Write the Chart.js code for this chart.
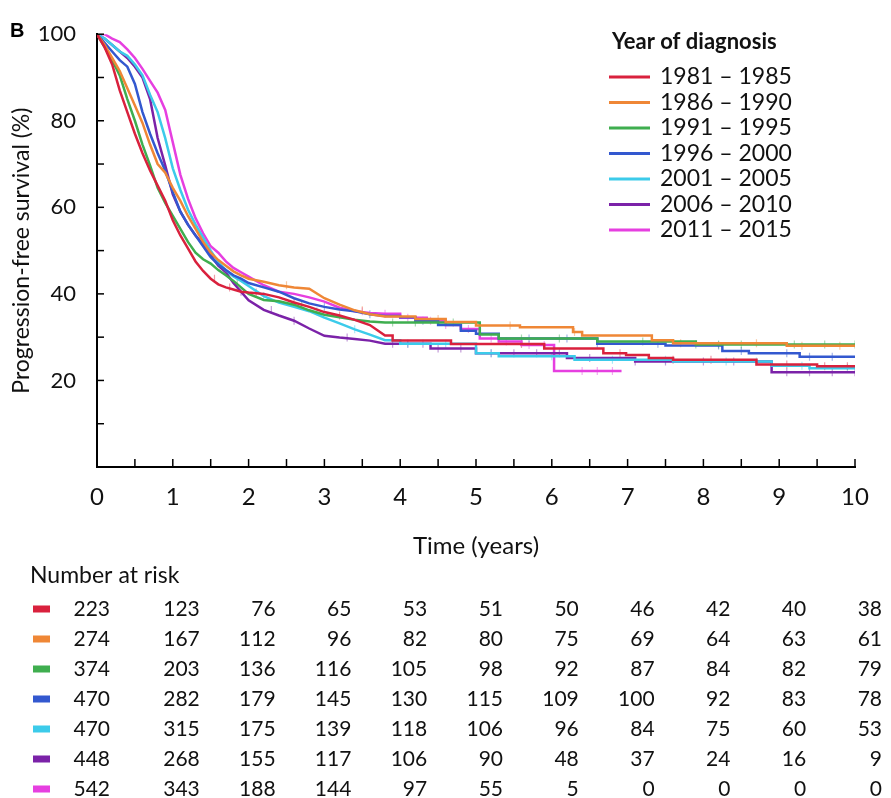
<!DOCTYPE html>
<html>
<head>
<meta charset="utf-8">
<script src="https://cdn.jsdelivr.net/npm/chart.js@4.4.1/dist/chart.umd.min.js"></script>
<style>
  html, body { margin: 0; padding: 0; background: #fff; }
  #wadah { width: 891px; height: 798px; }
</style>
</head>
<body>
<div id="wadah"><canvas id="grafikSurvival" width="891" height="798"></canvas></div>
<script>
// 1. DATA KURVA
const kelompokTahun = ['1981 – 1985', '1986 – 1990', '1991 – 1995', '1996 – 2000', '2001 – 2005', '2006 – 2010', '2011 – 2015'];

// grid waktu bagian awal (tahun)
const waktuAwal = [0, 0.1, 0.2, 0.3, 0.4, 0.5, 0.6, 0.7, 0.8, 0.9, 1.0, 1.1, 1.2, 1.3, 1.4, 1.5, 1.6, 1.7, 1.8, 1.9, 2.0,
                   2.2, 2.4, 2.6, 2.8, 3.0, 3.2, 3.4, 3.6, 3.8];

const awal1981 = [100, 97, 93, 87, 82, 77, 72.5, 68.5, 65, 61.5, 57, 53.5, 50.5, 47.5, 45.3, 43.5, 42.2, 41.5, 41, 40.5, 40.3, 40, 39.2, 38, 37, 35.8, 35, 34, 32.8, 30.4];
const awal1986 = [100, 97.5, 94.5, 91.5, 87.5, 83.5, 79.5, 74.5, 70, 68, 64.5, 61.5, 58, 55, 52, 49.5, 47.8, 46.5, 45.2, 44.3, 43.5, 42.8, 42, 41.5, 41.2, 39, 37.5, 36.2, 35.3, 34.8];
const awal1991 = [100, 97, 94, 90.5, 85, 80, 74.5, 69.7, 64.5, 61, 58, 55, 52, 49.5, 48, 47, 45.5, 44.3, 43, 41.5, 40, 38.6, 38.3, 37.5, 36.2, 35.2, 34.6, 34, 33.6, 33.4];
const awal1996 = [100, 98, 96, 94, 92.5, 88.5, 82, 77, 72.5, 68.5, 63.5, 59, 56, 53.5, 51, 48.5, 46.8, 45.5, 44.3, 43.5, 42.5, 41.5, 40.5, 39, 37.8, 37, 36.4, 36, 35.3, 34.9];
const awal2001 = [100, 99, 97.5, 96, 95, 93, 90.5, 86, 82, 76, 69, 64, 59.5, 56, 53, 50, 47.3, 45.5, 44, 43, 41.8, 39.5, 38, 37, 36, 34.5, 33.2, 31.8, 30.6, 29.3];
const awal2006 = [100, 99, 97.5, 96, 94.5, 92.5, 90, 85, 76, 69.7, 63, 59, 56, 53.5, 51.5, 49, 46.5, 45, 42.5, 40.5, 38.5, 36.3, 35, 33.8, 32, 30.3, 29.9, 29.6, 29.2, 28.5];
const awal2011 = [100, 100, 99, 98.2, 96.5, 94.5, 92, 89.2, 86.5, 82.5, 75, 67.5, 62, 57.5, 54, 51, 49.5, 47.5, 46, 45, 44, 42, 40.5, 40, 39.2, 38.2, 36.8, 36, 35.6, 35.4];

// bagian akhir: waktu langkah turun dan nilai baru sesudah langkah
const langkahWaktu1981 = [3.9, 4.67, 5.9, 6.68, 6.98, 7.28, 7.6, 8.7, 9.5];
const langkahNilai1981 = [29.2, 28.4, 27.4, 26.3, 25.9, 25.2, 24.8, 23.7, 23.3];
const langkahWaktu1986 = [4.2, 4.6, 5.0, 5.58, 6.28, 6.4, 7.32, 7.6, 9.1];
const langkahNilai1986 = [34.2, 33.5, 32.7, 32.3, 31.2, 30.4, 29.3, 28.6, 28.0];
const langkahWaktu1991 = [5.05, 5.3, 6.6, 7.9];
const langkahNilai1991 = [30.6, 29.7, 29.0, 28.3];
const langkahWaktu1996 = [4.0, 4.2, 4.5, 4.8, 5.0, 5.3, 6.6, 7.5, 8.25, 8.6, 9.27];
const langkahNilai1996 = [34.6, 33.8, 32.8, 31.5, 30.8, 29.7, 28.5, 28.1, 26.8, 26.3, 25.5];
const langkahWaktu2001 = [4.0, 5.0, 5.3, 6.3, 7.6, 8.9, 9.4];
const langkahNilai2001 = [28.5, 26.3, 25.6, 24.8, 24.4, 23.4, 22.8];
const langkahWaktu2006 = [4.4, 5.0, 6.2, 7.1, 8.9];
const langkahNilai2006 = [27.4, 26.3, 25.2, 24.4, 21.9];
const langkahWaktu2011 = [4.0, 4.35, 4.6, 4.8, 5.05, 5.3, 5.6, 6.03];
const langkahNilai2011 = [34.5, 33.8, 32.8, 31.9, 29.7, 29.0, 28.2, 22.2];

const waktuAkhir = [10, 10, 10, 10, 10, 10, 6.92];

// waktu sensor (tanda garis kecil)
const sensor1981 = [1.55, 1.75, 2.1, 2.6, 3.2, 5.6, 6.9, 7.6, 8.1, 9.1, 9.6, 9.9];
const sensor1986 = [2.5, 3.5, 4.5, 5.45, 6.3, 7.7, 8.7, 9.3, 9.8];
const sensor1991 = [1.85, 2.7, 3.9, 4.2, 4.7, 5.6, 6.1, 7.2, 7.9, 8.2, 8.5, 9.2, 9.6, 10];
const sensor1996 = [3.0, 3.6, 4.3, 5.3, 5.7, 6.2, 6.6, 7.4, 8.2, 8.5, 9.1, 9.4, 9.7];
const sensor2001 = [2.2, 2.9, 3.4, 4.1, 4.6, 5.2, 6.0, 6.8, 7.5, 8.3, 8.7, 9.3, 9.9];
const sensor2006 = [1.9, 2.3, 2.6, 3.3, 3.9, 4.1, 4.3, 4.5, 4.8, 5.2, 5.5, 5.8, 6.1, 6.5, 7.1, 7.5, 8.0, 8.4, 9.1, 9.4, 9.7, 10];
const sensor2011 = [3.5, 3.8, 4.1, 4.4, 4.6, 4.9, 5.2, 5.4, 5.7, 5.9, 6.4, 6.6, 6.8];

// tabel jumlah berisiko
const waktuRisiko = [0, 1, 2, 3, 4, 5, 6, 7, 8, 9, 10];
const risiko1981 = [223, 123, 76, 65, 53, 51, 50, 46, 42, 40, 38];
const risiko1986 = [274, 167, 112, 96, 82, 80, 75, 69, 64, 63, 61];
const risiko1991 = [374, 203, 136, 116, 105, 98, 92, 87, 84, 82, 79];
const risiko1996 = [470, 282, 179, 145, 130, 115, 109, 100, 92, 83, 78];
const risiko2001 = [470, 315, 175, 139, 118, 106, 96, 84, 75, 60, 53];
const risiko2006 = [448, 268, 155, 117, 106, 90, 48, 37, 24, 16, 9];
const risiko2011 = [542, 343, 188, 144, 97, 55, 5, 0, 0, 0, 0];

const warnaKelompok = ['#d9213d', '#ef8736', '#3fae4f', '#3358cf', '#3ccbea', '#7b22a8', '#e63fe0'];
const warnaSensor = ['rgba(217,33,61,0.45)', 'rgba(239,135,54,0.45)', 'rgba(63,174,79,0.45)', 'rgba(51,88,207,0.45)',
                     'rgba(60,203,234,0.45)', 'rgba(123,34,168,0.45)', 'rgba(230,63,224,0.45)'];
const hurufUtama = 'Lato, "Open Sans", sans-serif';

// 2. Susun titik kurva dari array di atas
function susunKurva(nilaiAwal, waktuLangkah, nilaiLangkah, akhir) {
    const titik = waktuAwal.map(function(t, i) { return {x: t, y: nilaiAwal[i]}; });
    let nilaiSekarang = nilaiAwal[nilaiAwal.length - 1];
    waktuLangkah.forEach(function(t, i) {
        titik.push({x: t, y: nilaiSekarang});
        titik.push({x: t, y: nilaiLangkah[i]});
        nilaiSekarang = nilaiLangkah[i];
    });
    titik.push({x: akhir, y: nilaiSekarang});
    return titik;
}

// nilai kurva pada waktu t (untuk tanda sensor)
function nilaiPada(titik, t) {
    let hasil = titik[0].y;
    for (let i = 0; i < titik.length; i++) {
        if (titik[i].x <= t) hasil = titik[i].y;
    }
    return hasil;
}

const semuaAwal = [awal1981, awal1986, awal1991, awal1996, awal2001, awal2006, awal2011];
const semuaLangkahWaktu = [langkahWaktu1981, langkahWaktu1986, langkahWaktu1991, langkahWaktu1996, langkahWaktu2001, langkahWaktu2006, langkahWaktu2011];
const semuaLangkahNilai = [langkahNilai1981, langkahNilai1986, langkahNilai1991, langkahNilai1996, langkahNilai2001, langkahNilai2006, langkahNilai2011];
const semuaSensor = [sensor1981, sensor1986, sensor1991, sensor1996, sensor2001, sensor2006, sensor2011];
const semuaRisiko = [risiko1981, risiko1986, risiko1991, risiko1996, risiko2001, risiko2006, risiko2011];

const dataKurva = [];
const dataSensor = [];

kelompokTahun.forEach(function(nama, i) {
    const titik = susunKurva(semuaAwal[i], semuaLangkahWaktu[i], semuaLangkahNilai[i], waktuAkhir[i]);
    dataKurva.push({
        label: nama,
        data: titik,
        borderColor: warnaKelompok[i],
        borderWidth: 2.5,
        pointRadius: 0,
        fill: false,
        tension: 0
    });
    dataSensor.push({
        label: 'sensor ' + nama,
        data: semuaSensor[i].map(function(t) { return {x: t, y: nilaiPada(titik, t)}; }),
        showLine: false,
        pointStyle: 'line',
        pointRotation: 90,
        pointRadius: 4,
        pointBorderWidth: 1.2,
        pointBorderColor: warnaSensor[i],
        borderColor: warnaSensor[i]
    });
});

// 3. Plugin: tanda tick ke dalam, legenda, label B, tabel risiko
const pluginTambahan = {
    id: 'tambahan',
    afterDraw(chart) {
        const ctx = chart.ctx;
        const sumbuX = chart.scales.x;
        const sumbuY = chart.scales.y;
        ctx.save();

        // tick ke dalam
        ctx.strokeStyle = '#000';
        ctx.lineWidth = 1.5;
        sumbuX.ticks.forEach(function(tk) {
            const px = sumbuX.getPixelForValue(tk.value);
            ctx.beginPath();
            ctx.moveTo(px, sumbuX.top);
            ctx.lineTo(px, sumbuX.top - 8);
            ctx.stroke();
        });
        sumbuY.ticks.forEach(function(tk) {
            const py = sumbuY.getPixelForValue(tk.value);
            ctx.beginPath();
            ctx.moveTo(sumbuY.right, py);
            ctx.lineTo(sumbuY.right + 7, py);
            ctx.stroke();
        });

        // huruf B
        ctx.fillStyle = '#000';
        ctx.font = 'bold 20px "Liberation Sans", Arial, sans-serif';
        ctx.textAlign = 'left';
        ctx.textBaseline = 'middle';
        ctx.fillText('B', 10, 31);

        // legenda
        ctx.fillStyle = '#111';
        ctx.font = 'bold 22px ' + hurufUtama;
        ctx.fillText('Year of diagnosis', 612, 42);
        ctx.font = '23px ' + hurufUtama;
        dataKurva.forEach(function(ds, i) {
            const yBaris = 77 + i * 25.5;
            ctx.strokeStyle = ds.borderColor;
            ctx.lineWidth = 3;
            ctx.beginPath();
            ctx.moveTo(609, yBaris);
            ctx.lineTo(650, yBaris);
            ctx.stroke();
            ctx.fillStyle = '#111';
            ctx.fillText(ds.label, 660, yBaris);
        });

        // tabel jumlah berisiko
        ctx.font = '23px ' + hurufUtama;
        ctx.fillText('Number at risk', 30, 576);
        ctx.font = '21px ' + hurufUtama;
        ctx.textAlign = 'right';
        semuaRisiko.forEach(function(baris, i) {
            const yBaris = 609 + i * 30;
            ctx.fillStyle = warnaKelompok[i];
            ctx.fillRect(33, yBaris - 3.5, 17, 7);
            ctx.fillStyle = '#111';
            baris.forEach(function(n, k) {
                const px = sumbuX.getPixelForValue(waktuRisiko[k]) + (k === 0 ? 13 : 27);
                ctx.fillText(String(n), px, yBaris);
            });
        });
        ctx.restore();
    }
};

// 4. Gambar grafik
window.onload = function() {
    const konteks = document.getElementById('grafikSurvival').getContext('2d');
    new Chart(konteks, {
        type: 'line',
        data: { datasets: dataKurva.concat(dataSensor) },
        options: {
            responsive: false,
            maintainAspectRatio: false,
            animation: false,
            events: [],
            layout: { padding: { left: 0, top: 22, right: 36, bottom: 0 } },
            plugins: {
                legend: { display: false },
                tooltip: { enabled: false }
            },
            scales: {
                x: {
                    type: 'linear',
                    min: 0,
                    max: 10,
                    grid: { display: false, drawTicks: false },
                    border: { display: true, color: '#000', width: 2 },
                    ticks: {
                        stepSize: 0.5,
                        autoSkip: false,
                        maxRotation: 0,
                        padding: 16,
                        color: '#111',
                        font: { family: hurufUtama, size: 24 },
                        callback: function(v) { return Number.isInteger(v) ? String(v) : ''; }
                    },
                    title: {
                        display: true,
                        text: 'Time (years)',
                        color: '#111',
                        font: { family: hurufUtama, size: 24 },
                        padding: { top: 0, bottom: 237 }
                    },
                    afterFit: function(s) { s.height = 331; }
                },
                y: {
                    type: 'linear',
                    min: 0,
                    max: 100,
                    grid: { display: false, drawTicks: false },
                    border: { display: true, color: '#000', width: 2 },
                    ticks: {
                        stepSize: 10,
                        autoSkip: false,
                        padding: 21,
                        color: '#111',
                        font: { family: hurufUtama, size: 22 },
                        callback: function(v) { return (v > 0 && v % 20 === 0) ? String(v) : ''; }
                    },
                    title: {
                        display: true,
                        text: 'Progression-free survival (%)',
                        color: '#111',
                        font: { family: hurufUtama, size: 23 },
                        padding: { top: 8, bottom: 0 }
                    },
                    afterFit: function(s) { s.width = 97; }
                }
            }
        },
        plugins: [pluginTambahan]
    });
};
</script>
</body>
</html>
